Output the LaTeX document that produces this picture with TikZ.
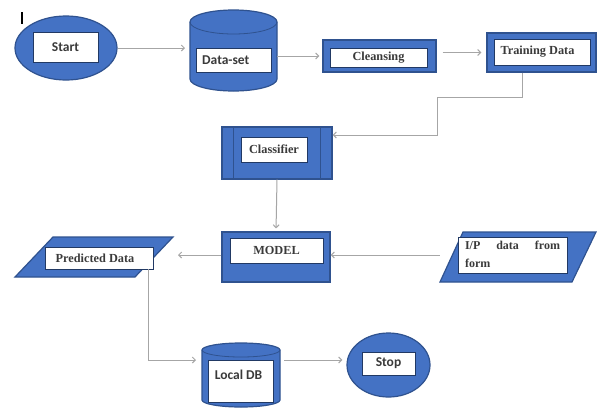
\documentclass[tikz,border=0pt]{standalone}
\usepackage{fontspec}
\setmainfont{Liberation Serif}
\newfontfamily\sansf{Carlito}
\usetikzlibrary{arrows.meta,shapes.geometric,calc}
\definecolor{fillblue}{HTML}{4472C4}
\definecolor{edgeblue}{HTML}{2F528F}
\definecolor{conngray}{HTML}{A6A6A6}
\definecolor{txt}{HTML}{3A3A3A}
\begin{document}
\begin{tikzpicture}[x=1pt,y=-1pt,
 bluebox/.style={draw=edgeblue, fill=fillblue, line width=1.2pt, inner sep=0pt},
 whitebox/.style={draw=edgeblue!70!black, fill=white, line width=0.6pt, inner sep=0pt, text=txt},
 ghost/.style={inner sep=0pt, outer sep=0pt},
 serift/.style={font=\bfseries\fontsize{12.3}{14}\selectfont, text=txt},
 sanst/.style={font=\sansf\bfseries\fontsize{13.5}{16}\selectfont, text=txt},
 conn/.style={draw=conngray, line width=1pt, -{Straight Barb[length=3pt,width=6pt]}},
]
\useasboundingbox (0,0) rectangle (597,408);
\fill[white] (0,0) rectangle (597,408);

% cursor mark
\draw[line width=1.4pt, black] (22,12) -- (22,24);

% Start
\node[bluebox, ellipse, minimum width=102pt, minimum height=64pt] (start) at (66,48) {};
\node[whitebox, sanst, minimum width=65pt, minimum height=30pt] (startl) at (65.5,47) {Start};

% Data-set cylinder
\node[ghost, minimum width=87pt, minimum height=81pt] (ds) at (233.5,50.5) {};
\filldraw[bluebox] (190,22) -- (190,79) arc[start angle=180,end angle=360,x radius=43.5pt,y radius=12pt] -- (277,22) arc[start angle=0,end angle=180,x radius=43.5pt,y radius=12pt] -- cycle;
\draw[edgeblue, line width=0.8pt] (190,22) arc[start angle=180,end angle=360,x radius=43.5pt,y radius=12pt];
\node[whitebox, minimum width=75pt, minimum height=24pt] (dsl) at (233.5,60) {};
\node[sanst, anchor=west, inner sep=0pt] (dst) at (202,60) {Data-set};

% Cleansing
\node[bluebox, minimum width=113pt, minimum height=32pt] (cl) at (379.5,56) {};
\node[whitebox, serift, minimum width=97pt, minimum height=19pt] (cll) at (378.5,57.5) {Cleansing};

% Training Data
\node[bluebox, minimum width=109pt, minimum height=39pt] (tr) at (541.5,52.5) {};
\node[whitebox, minimum width=96pt, minimum height=26pt] (trl) at (542,52) {};
\node[serift, inner sep=0pt] (trt) at (537.5,52) {Training Data};

% Classifier
\node[bluebox, minimum width=110pt, minimum height=52pt] (clf) at (277,153) {};
\draw[edgeblue, line width=0.8pt] (233,127) -- (233,179) (320,127) -- (320,179);
\node[whitebox, serift, minimum width=66pt, minimum height=25pt] (clfl) at (274,149.5) {Classifier};

% MODEL
\node[bluebox, minimum width=108pt, minimum height=50pt] (mdl) at (276,257) {};
\node[whitebox, serift, minimum width=93pt, minimum height=25pt] (mdll) at (276.5,250.5) {MODEL};

% Predicted Data
\node[ghost, minimum width=158pt, minimum height=40pt] (pd) at (94,257) {};
\filldraw[bluebox] (53,237) -- (173,237) -- (135,277) -- (15,277) -- cycle;
\node[whitebox, minimum width=108pt, minimum height=22pt] (pdl) at (99,258) {};
\node[serift, inner sep=0pt] (pdt) at (95,258) {Predicted Data};

% I/P data from form
\node[ghost, minimum width=157pt, minimum height=50pt] (ip) at (518,255) {};
\filldraw[bluebox] (463,232) -- (596,232) -- (572,282) -- (440,282) -- cycle;
\node[whitebox, minimum width=109pt, minimum height=36pt] (ipl) at (512.5,255) {};
\node[serift, inner sep=0pt, text width=95pt, align=left, font=\bfseries\fontsize{12}{18}\selectfont] (ipt) at (512.5,254) {I/P\hfill data\hfill from\\form};

% Local DB cylinder
\node[ghost, minimum width=78pt, minimum height=64pt] (db) at (241,375) {};
\filldraw[bluebox] (202,350) -- (202,400) arc[start angle=180,end angle=360,x radius=39pt,y radius=7pt] -- (280,350) arc[start angle=0,end angle=180,x radius=39pt,y radius=7pt] -- cycle;
\draw[edgeblue, line width=0.8pt] (202,350) arc[start angle=180,end angle=360,x radius=39pt,y radius=7pt];
\node[whitebox, minimum width=65pt, minimum height=42pt] (dbl) at (240.5,381) {};
\node[sanst, inner sep=0pt] (dbt) at (238.5,375) {Local DB};

% Stop
\node[bluebox, ellipse, minimum width=83pt, minimum height=64pt] (stop) at (388.5,365) {};
\node[whitebox, sanst, minimum width=53pt, minimum height=23pt] (stopl) at (388.5,363.5) {Stop};

% connectors
\coordinate (b1) at (522,97);
\coordinate (b2) at (437,97);
\coordinate (b3) at (437,135);
\coordinate (c1) at (148,360);

\draw[conn, shorten >=5pt] (start.east) -- (start.east -| ds.west);
\draw[conn, shorten >=3pt] (ds.east |- cl.west) -- (cl.west);
\draw[conn, shorten <=6pt, shorten >=5pt] (cl.east |- tr.west) -- (tr.west);
\draw[conn] (tr.south -| b1) -- (b1) -- (b2) -- (b3) -- (b3 -| clf.east);
\draw[conn, shorten >=3pt] (clf.south) -- (mdl.north);
\draw[conn] (ip.west) -- (ip.west -| mdl.east);
\draw[conn, shorten >=5pt] (mdl.west |- ip.west) -- (ip.west -| pd.east);
\draw[conn, shorten >=6pt] (pdl.south -| c1) -- (c1) -- (c1 -| db.west);
\draw[conn, shorten <=4pt, shorten >=4pt] (db.east |- c1) -- (c1 -| stop.west);
\end{tikzpicture}
\end{document}
